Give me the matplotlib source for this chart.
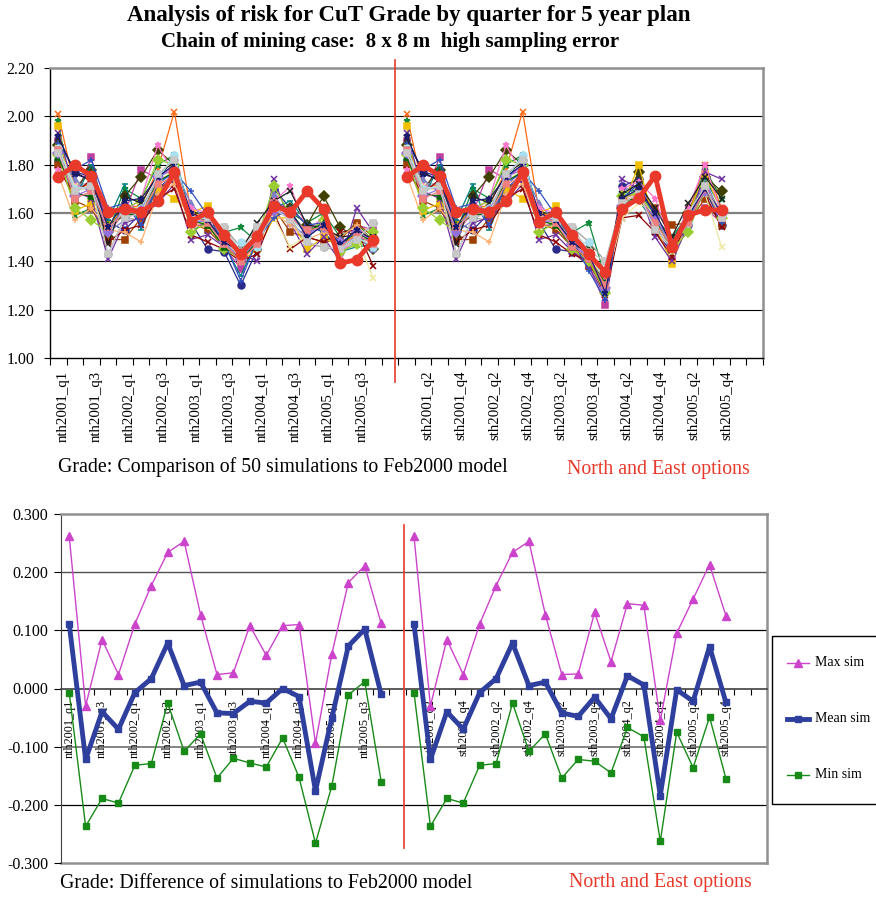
import matplotlib
matplotlib.use('Agg')
import matplotlib.pyplot as plt
from matplotlib.transforms import ScaledTranslation
from matplotlib.lines import Line2D
from matplotlib.patches import Rectangle

plt.rcParams['font.family'] = ['Liberation Serif', 'DejaVu Serif']
plt.rcParams['axes.unicode_minus'] = False

# ---------------- data ----------------
north_labels = ['nth2001_q1', 'nth2001_q2', 'nth2001_q3', 'nth2001_q4',
                'nth2002_q1', 'nth2002_q2', 'nth2002_q3', 'nth2002_q4',
                'nth2003_q1', 'nth2003_q2', 'nth2003_q3', 'nth2003_q4',
                'nth2004_q1', 'nth2004_q2', 'nth2004_q3', 'nth2004_q4',
                'nth2005_q1', 'nth2005_q2', 'nth2005_q3', 'nth2005_q4']
south_labels = ['sth2001_q1', 'sth2001_q2', 'sth2001_q3', 'sth2001_q4',
                'sth2002_q1', 'sth2002_q2', 'sth2002_q3', 'sth2002_q4',
                'sth2003_q1', 'sth2003_q2', 'sth2003_q3', 'sth2003_q4',
                'sth2004_q1', 'sth2004_q2', 'sth2004_q3', 'sth2004_q4',
                'sth2005_q1', 'sth2005_q2', 'sth2005_q3', 'sth2005_q4']

# Feb2000 model grade (thick red line)
model_north = [1.749, 1.797, 1.754, 1.604, 1.617, 1.604, 1.648, 1.768, 1.564, 1.603,
               1.510, 1.430, 1.503, 1.630, 1.604, 1.690, 1.617, 1.392, 1.407, 1.487]
model_south = [1.749, 1.797, 1.754, 1.604, 1.617, 1.604, 1.648, 1.768, 1.564, 1.603,
               1.509, 1.429, 1.354, 1.617, 1.661, 1.754, 1.459, 1.590, 1.614, 1.611]

# simulated grades: first ten quarters are common to both options
sims_common = [
    [2.01, 1.70, 1.72, 1.55, 1.62, 1.63, 1.78, 2.02, 1.60, 1.58],
    [1.98, 1.59, 1.62, 1.52, 1.70, 1.66, 1.80, 1.84, 1.52, 1.57],
    [1.82, 1.77, 1.75, 1.56, 1.53, 1.60, 1.70, 1.76, 1.56, 1.45],
    [1.90, 1.66, 1.83, 1.52, 1.60, 1.78, 1.74, 1.80, 1.55, 1.55],
    [1.88, 1.70, 1.78, 1.50, 1.67, 1.75, 1.86, 1.80, 1.60, 1.60],
    [1.86, 1.72, 1.72, 1.43, 1.58, 1.57, 1.76, 1.82, 1.54, 1.58],
    [1.85, 1.74, 1.68, 1.52, 1.57, 1.62, 1.68, 1.78, 1.64, 1.56],
    [1.84, 1.66, 1.80, 1.57, 1.72, 1.53, 1.72, 1.85, 1.58, 1.57],
    [1.80, 1.65, 1.62, 1.49, 1.49, 1.58, 1.70, 1.74, 1.56, 1.53],
    [1.96, 1.61, 1.64, 1.55, 1.62, 1.62, 1.70, 1.66, 1.60, 1.63],
    [1.93, 1.69, 1.66, 1.41, 1.56, 1.58, 1.64, 1.72, 1.49, 1.51],
    [1.78, 1.68, 1.74, 1.48, 1.53, 1.55, 1.66, 1.70, 1.51, 1.48],
    [1.78, 1.71, 1.70, 1.54, 1.60, 1.66, 1.88, 1.76, 1.62, 1.60],
    [1.76, 1.57, 1.62, 1.53, 1.52, 1.48, 1.68, 1.72, 1.55, 1.54],
    [1.84, 1.62, 1.57, 1.52, 1.62, 1.65, 1.82, 1.80, 1.52, 1.56],
    [1.87, 1.71, 1.69, 1.53, 1.60, 1.63, 1.72, 1.79, 1.54, 1.58],
    [1.89, 1.78, 1.82, 1.62, 1.64, 1.55, 1.72, 1.77, 1.69, 1.59],
    [1.91, 1.77, 1.73, 1.47, 1.67, 1.64, 1.76, 1.81, 1.58, 1.57],
    [1.87, 1.70, 1.71, 1.54, 1.61, 1.62, 1.74, 1.84, 1.58, 1.56],
    [1.83, 1.68, 1.67, 1.55, 1.59, 1.60, 1.73, 1.77, 1.57, 1.55],
    [1.85, 1.67, 1.70, 1.52, 1.63, 1.61, 1.75, 1.78, 1.56, 1.57],
    [1.86, 1.66, 1.69, 1.54, 1.60, 1.60, 1.72, 1.75, 1.59, 1.56],
    [1.92, 1.76, 1.74, 1.54, 1.65, 1.66, 1.75, 1.80, 1.60, 1.57],
    [1.85, 1.69, 1.71, 1.43, 1.58, 1.60, 1.76, 1.82, 1.57, 1.58],
]
sims_north_tail = [
    [1.47, 1.42, 1.50, 1.62, 1.58, 1.52, 1.55, 1.47, 1.50, 1.46],
    [1.52, 1.54, 1.48, 1.64, 1.60, 1.56, 1.60, 1.50, 1.56, 1.48],
    [1.44, 1.30, 1.45, 1.70, 1.62, 1.55, 1.52, 1.45, 1.49, 1.50],
    [1.46, 1.37, 1.46, 1.66, 1.60, 1.51, 1.56, 1.44, 1.55, 1.53],
    [1.50, 1.45, 1.50, 1.63, 1.62, 1.55, 1.67, 1.54, 1.50, 1.45],
    [1.54, 1.46, 1.54, 1.61, 1.58, 1.47, 1.46, 1.44, 1.48, 1.56],
    [1.48, 1.42, 1.47, 1.68, 1.56, 1.50, 1.56, 1.48, 1.50, 1.45],
    [1.47, 1.34, 1.49, 1.62, 1.65, 1.56, 1.52, 1.44, 1.46, 1.47],
    [1.46, 1.42, 1.46, 1.62, 1.52, 1.50, 1.48, 1.49, 1.56, 1.50],
    [1.48, 1.40, 1.45, 1.58, 1.58, 1.45, 1.50, 1.46, 1.52, 1.50],
    [1.46, 1.43, 1.40, 1.74, 1.56, 1.43, 1.50, 1.40, 1.62, 1.52],
    [1.45, 1.40, 1.43, 1.60, 1.45, 1.50, 1.48, 1.52, 1.53, 1.38],
    [1.50, 1.42, 1.52, 1.65, 1.71, 1.53, 1.58, 1.42, 1.52, 1.47],
    [1.47, 1.42, 1.47, 1.60, 1.55, 1.49, 1.52, 1.50, 1.55, 1.48],
    [1.45, 1.41, 1.50, 1.71, 1.59, 1.52, 1.57, 1.44, 1.47, 1.52],
    [1.48, 1.42, 1.49, 1.58, 1.46, 1.51, 1.56, 1.45, 1.50, 1.33],
    [1.48, 1.32, 1.49, 1.58, 1.62, 1.55, 1.56, 1.46, 1.50, 1.48],
    [1.48, 1.44, 1.56, 1.65, 1.69, 1.55, 1.54, 1.50, 1.51, 1.50],
    [1.47, 1.48, 1.46, 1.63, 1.58, 1.51, 1.55, 1.46, 1.50, 1.46],
    [1.46, 1.41, 1.48, 1.64, 1.60, 1.52, 1.56, 1.47, 1.52, 1.48],
    [1.48, 1.41, 1.49, 1.61, 1.59, 1.52, 1.54, 1.48, 1.52, 1.49],
    [1.47, 1.40, 1.47, 1.64, 1.58, 1.53, 1.54, 1.46, 1.51, 1.47],
    [1.48, 1.44, 1.51, 1.64, 1.61, 1.50, 1.55, 1.47, 1.53, 1.49],
    [1.54, 1.44, 1.54, 1.62, 1.57, 1.48, 1.46, 1.45, 1.49, 1.56],
]
sims_south_tail = [
    [1.46, 1.40, 1.30, 1.63, 1.68, 1.58, 1.46, 1.60, 1.80, 1.62],
    [1.52, 1.56, 1.33, 1.68, 1.70, 1.58, 1.50, 1.59, 1.78, 1.66],
    [1.44, 1.40, 1.28, 1.71, 1.74, 1.52, 1.44, 1.55, 1.70, 1.55],
    [1.45, 1.38, 1.22, 1.66, 1.68, 1.54, 1.41, 1.58, 1.62, 1.56],
    [1.50, 1.45, 1.34, 1.62, 1.77, 1.56, 1.48, 1.60, 1.75, 1.69],
    [1.54, 1.48, 1.40, 1.65, 1.70, 1.55, 1.44, 1.60, 1.72, 1.60],
    [1.46, 1.42, 1.30, 1.69, 1.72, 1.60, 1.46, 1.55, 1.74, 1.58],
    [1.50, 1.45, 1.28, 1.62, 1.65, 1.56, 1.48, 1.61, 1.74, 1.62],
    [1.46, 1.38, 1.30, 1.62, 1.69, 1.62, 1.55, 1.56, 1.66, 1.55],
    [1.45, 1.40, 1.28, 1.62, 1.80, 1.55, 1.39, 1.60, 1.76, 1.61],
    [1.44, 1.38, 1.25, 1.74, 1.70, 1.50, 1.40, 1.55, 1.77, 1.74],
    [1.43, 1.40, 1.26, 1.58, 1.59, 1.52, 1.42, 1.58, 1.68, 1.54],
    [1.48, 1.41, 1.32, 1.70, 1.73, 1.66, 1.46, 1.62, 1.80, 1.60],
    [1.47, 1.42, 1.31, 1.66, 1.68, 1.58, 1.47, 1.57, 1.72, 1.58],
    [1.45, 1.40, 1.27, 1.67, 1.68, 1.59, 1.45, 1.52, 1.71, 1.58],
    [1.47, 1.44, 1.30, 1.58, 1.64, 1.60, 1.44, 1.58, 1.68, 1.46],
    [1.49, 1.36, 1.24, 1.66, 1.72, 1.58, 1.45, 1.58, 1.72, 1.56],
    [1.47, 1.44, 1.35, 1.68, 1.72, 1.62, 1.50, 1.64, 1.75, 1.66],
    [1.47, 1.48, 1.29, 1.64, 1.67, 1.57, 1.46, 1.56, 1.70, 1.59],
    [1.46, 1.41, 1.31, 1.65, 1.66, 1.57, 1.45, 1.57, 1.69, 1.59],
    [1.47, 1.42, 1.29, 1.63, 1.66, 1.58, 1.47, 1.58, 1.69, 1.60],
    [1.46, 1.41, 1.30, 1.65, 1.67, 1.56, 1.46, 1.56, 1.70, 1.58],
    [1.48, 1.43, 1.27, 1.66, 1.70, 1.60, 1.47, 1.59, 1.70, 1.60],
    [1.54, 1.44, 1.40, 1.64, 1.68, 1.53, 1.46, 1.60, 1.71, 1.58],
]

# differences of simulations to the Feb2000 model
max_north = [0.262, -0.030, 0.084, 0.024, 0.111, 0.177, 0.234, 0.253, 0.127, 0.024,
             0.027, 0.108, 0.057, 0.108, 0.110, -0.094, 0.060, 0.182, 0.211, 0.112]
mean_north = [0.111, -0.122, -0.040, -0.070, -0.007, 0.017, 0.078, 0.005, 0.011, -0.042,
              -0.043, -0.022, -0.025, 0.000, -0.014, -0.176, -0.050, 0.073, 0.102, -0.010]
min_north = [-0.007, -0.237, -0.189, -0.197, -0.132, -0.129, -0.025, -0.108, -0.078, -0.154,
             -0.120, -0.128, -0.135, -0.085, -0.153, -0.266, -0.167, -0.011, 0.012, -0.160]
max_south = [0.262, -0.030, 0.084, 0.024, 0.111, 0.177, 0.234, 0.253, 0.127, 0.024,
             0.025, 0.131, 0.046, 0.146, 0.143, -0.055, 0.095, 0.154, 0.213, 0.125]
mean_south = [0.111, -0.122, -0.040, -0.070, -0.007, 0.017, 0.078, 0.005, 0.011, -0.042,
              -0.048, -0.015, -0.052, 0.022, 0.006, -0.184, -0.002, -0.022, 0.072, -0.024]
min_south = [-0.007, -0.237, -0.189, -0.197, -0.132, -0.129, -0.025, -0.108, -0.078, -0.154,
             -0.122, -0.125, -0.145, -0.067, -0.083, -0.263, -0.075, -0.136, -0.049, -0.155]

# ---------------- styling ----------------
sim_colors = ['#FF6A13', '#0E8A3A', '#2B2B8C', '#C040A0', '#404000', '#A0A0A0',
              '#8080C8', '#008080', '#A04000', '#F0C000', '#7030A0', '#8B0000',
              '#FF77CC', '#FFB070', '#9ACD32', '#F0E8A0', '#3050C0', '#202020',
              '#A8E0F0', '#006400', '#9370DB', '#F08080', '#1A1A6E', '#C8C8C8']
sim_markers = ['x', '*', 'o', 's', 'D', 'o', '^', '_', 's', 's', 'x', 'x',
               '*', '+', 'D', 'x', '+', 'x', 'o', '^', 'D', 's', '*', 's']
RED = '#E8392A'
n_cat = 43
x_north = list(range(0, 20))
x_south = list(range(21, 41))

W, H = 876, 898
fig = plt.figure(figsize=(W / 100, H / 100), dpi=100)


def fx(px):
    return px / W


def fy(py):
    return 1 - py / H


# ---------------- top chart ----------------
ax1 = fig.add_axes([fx(50), fy(358), (763 - 50) / W, (358 - 68) / H])
for i in range(len(sims_common)):
    yn = sims_common[i] + sims_north_tail[i]
    ys = sims_common[i] + sims_south_tail[i]
    for xs, ys_ in ((x_north, yn), (x_south, ys)):
        ax1.plot(xs, ys_, color=sim_colors[i], lw=0.9, marker=sim_markers[i],
                 ms=5, mew=1.1, zorder=3)
for xs, ys_ in ((x_north, model_north), (x_south, model_south)):
    ax1.plot(xs, ys_, color=RED, lw=3.5, marker='o', ms=7.5, zorder=5)

ax1.set_xlim(-0.5, n_cat - 0.5)
ax1.set_ylim(1.0, 2.2)
ax1.set_yticks([1.0, 1.2, 1.4, 1.6, 1.8, 2.0, 2.2])
ax1.set_yticklabels(['%.2f' % v for v in [1.0, 1.2, 1.4, 1.6, 1.8, 2.0, 2.2]], fontsize=11.5)
for v in [1.2, 1.4, 1.8, 2.0]:
    ax1.axhline(v, color='black', lw=0.8, zorder=1)
ax1.axhline(1.6, color='#808080', lw=1.6, zorder=1)
top_pos = list(range(0, 20, 2)) + list(range(22, 41, 2))
top_lab = north_labels[0::2] + south_labels[1::2]
ax1.set_xticks(top_pos)
ax1.set_xticklabels(top_lab, rotation=90, fontsize=10.7)
ax1.set_xticks([k + 0.5 for k in range(-1, n_cat)], minor=True)
ax1.tick_params(axis='x', which='major', length=0, pad=9)
ax1.tick_params(axis='x', which='minor', length=5, direction='out', width=0.8)
ax1.tick_params(axis='y', length=4, direction='out', width=0.8, pad=7.5)
for lab in ax1.get_xticklabels():
    lab.set_transform(lab.get_transform() + ScaledTranslation(5 / 100, 0, fig.dpi_scale_trans))
ax1.spines['top'].set_color('#909090')
ax1.spines['top'].set_linewidth(1.8)
ax1.spines['right'].set_color('#909090')
ax1.spines['right'].set_linewidth(1.8)
ax1.spines['left'].set_linewidth(1.0)
ax1.spines['bottom'].set_linewidth(1.0)

# ---------------- bottom chart ----------------
ax2 = fig.add_axes([fx(61), fy(863), (767 - 61) / W, (863 - 514) / H])
for xs, ymax, ymean, ymin in ((x_north, max_north, mean_north, min_north),
                              (x_south, max_south, mean_south, min_south)):
    ax2.plot(xs, ymax, color='#CC44CC', lw=1.0, marker='^', ms=6, zorder=4)
    ax2.plot(xs, ymin, color='#178A17', lw=1.0, marker='s', ms=5, zorder=4)
    ax2.plot(xs, ymean, color='#2E3F9E', lw=3.5, marker='s', ms=4.5, zorder=5)

ax2.set_xlim(-0.5, n_cat - 0.5)
ax2.set_ylim(-0.3, 0.3)
yt = [-0.3, -0.2, -0.1, 0.0, 0.1, 0.2, 0.3]
ax2.set_yticks(yt)
ax2.set_yticklabels(['%.3f' % v for v in yt], fontsize=11.5)
ax2.axhline(0.2, color='#505050', lw=1.0, zorder=1)
ax2.axhline(0.1, color='black', lw=0.9, zorder=1)
ax2.axhline(-0.1, color='#707070', lw=1.2, zorder=1)
ax2.axhline(-0.2, color='black', lw=0.9, zorder=1)
ax2.axhline(-0.3, color='#909090', lw=1.8, zorder=1, clip_on=False)
ax2.spines['bottom'].set_position(('data', 0))
ax2.spines['bottom'].set_color('#404040')
ax2.spines['bottom'].set_linewidth(1.2)
ax2.spines['top'].set_color('#909090')
ax2.spines['top'].set_linewidth(1.8)
ax2.spines['right'].set_color('#909090')
ax2.spines['right'].set_linewidth(1.8)
ax2.spines['left'].set_color('#404040')
ax2.set_xticks(top_pos)
ax2.set_xticklabels(top_lab, rotation=90, fontsize=8.7, va='top')
ax2.set_xticks([k + 0.5 for k in range(-1, n_cat)], minor=True)
ax2.tick_params(axis='x', which='major', length=0, pad=8)
ax2.tick_params(axis='x', which='minor', length=4, direction='out', width=0.8)
ax2.tick_params(axis='y', length=5, direction='out', width=0.8, pad=4)

# ---------------- red separators ----------------
fig.add_artist(Line2D([fx(395), fx(395)], [fy(60), fy(382)], color=RED, lw=1.2))
fig.add_artist(Line2D([fx(404), fx(404)], [fy(525), fy(848)], color=RED, lw=1.2))

# ---------------- legend ----------------
fig.add_artist(Rectangle((fx(772), fy(804)), 200 / W, 168 / H, transform=fig.transFigure,
                         facecolor='white', edgecolor='black', lw=1.0))
leg_items = [('Max sim', '#CC44CC', '^', 1.0, 663),
             ('Mean sim', '#2E3F9E', 's', 3.5, 719),
             ('Min sim', '#178A17', 's', 1.0, 775)]
for name, col, mk, lw, ypx in leg_items:
    fig.add_artist(Line2D([fx(787), fx(809)], [fy(ypx), fy(ypx)], color=col, lw=lw))
    fig.add_artist(Line2D([fx(798)], [fy(ypx)], color=col, marker=mk, ms=6 if mk == '^' else 5,
                          lw=0))
    fig.text(fx(815), fy(ypx), name, ha='left', va='center', fontsize=10)

# ---------------- titles & captions ----------------
fig.text(fx(409), fy(15), 'Analysis of risk for CuT Grade by quarter for 5 year plan',
         ha='center', va='center', fontsize=16.5, fontweight='bold')
fig.text(fx(390), fy(42), 'Chain of mining case:  8 x 8 m  high sampling error',
         ha='center', va='center', fontsize=15, fontweight='bold')
fig.text(fx(58), fy(467), 'Grade: Comparison of 50 simulations to Feb2000 model',
         ha='left', va='center', fontsize=14.3)
fig.text(fx(567), fy(469), 'North and East options', ha='left', va='center',
         fontsize=14.3, color=RED)
fig.text(fx(60), fy(883), 'Grade: Difference of simulations to Feb2000 model',
         ha='left', va='center', fontsize=14.3)
fig.text(fx(569), fy(883), 'North and East options', ha='left', va='center',
         fontsize=14.3, color=RED)

fig.savefig('out.png', dpi=100)
